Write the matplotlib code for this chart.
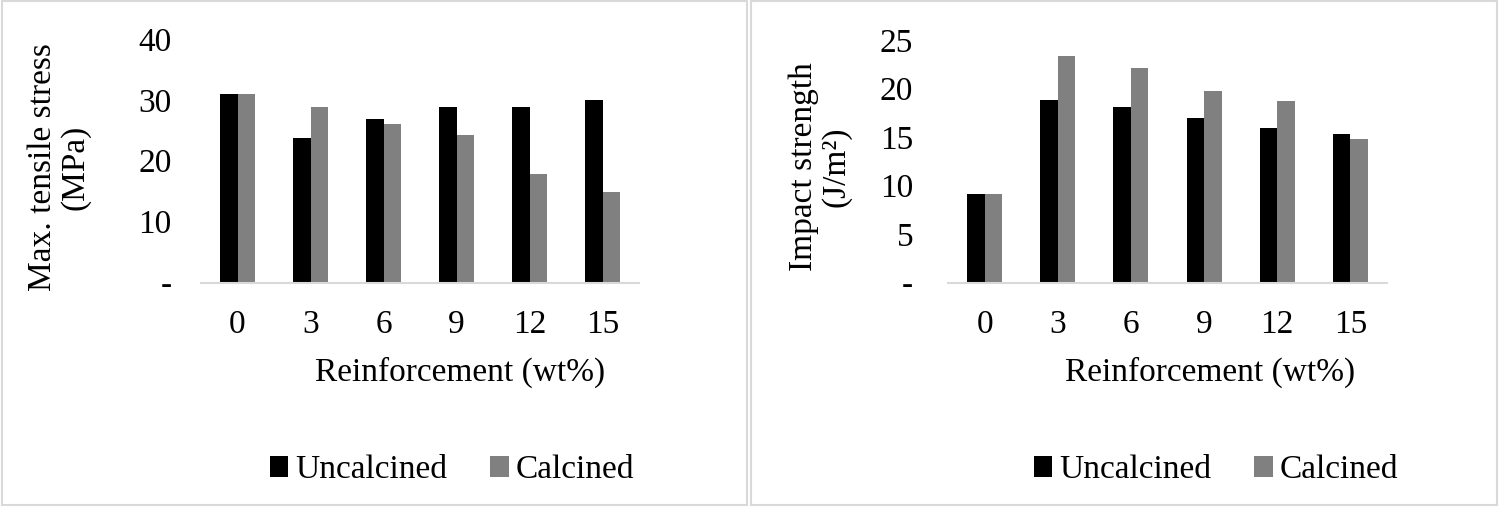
import matplotlib
matplotlib.use("Agg")
import matplotlib.pyplot as plt
from matplotlib.patches import Rectangle, Patch
import numpy as np

plt.rcParams['font.family'] = ['Liberation Serif', 'DejaVu Serif']

categories = ['0', '3', '6', '9', '12', '15']
tensile_uncalcined = [31.0, 23.7, 26.8, 28.8, 28.9, 29.9]
tensile_calcined = [31.0, 28.9, 26.1, 24.2, 17.9, 14.9]
impact_uncalcined = [9.15, 18.85, 18.1, 17.0, 15.9, 15.3]
impact_calcined = [9.15, 23.35, 22.1, 19.7, 18.7, 14.8]
tensile_ticks = [0, 10, 20, 30, 40]
tensile_ticklabels = ['-', '10', '20', '30', '40']
impact_ticks = [0, 5, 10, 15, 20, 25]
impact_ticklabels = ['-', '5', '10', '15', '20', '25']
series_names = ['Uncalcined', 'Calcined']

W, H = 1499, 508
fig = plt.figure(figsize=(W / 100, H / 100), dpi=100)

def fx(px):
    return px / W

def fy(py):
    return 1 - py / H

# panel borders
for x0, x1 in [(2, 747), (751, 1497)]:
    fig.patches.append(Rectangle((fx(x0), fy(505)), fx(x1 - x0), (505 - 1) / H,
                                 transform=fig.transFigure, fill=False,
                                 edgecolor='#D9D9D9', linewidth=1.5))

black = '#000000'
gray = '#808080'
bw = 0.24

def make_panel(left_px, right_px, top_px, base_px, unc, cal, ticks, ticklabels, ymax,
               ypad, ylabel, ylabel_x, xlabel_x, legend_x):
    ax = fig.add_axes([fx(left_px), fy(base_px), fx(right_px - left_px), (base_px - top_px) / H])
    x = np.arange(len(categories))
    ax.bar(x - bw / 2, unc, width=bw, color=black, label=series_names[0])
    ax.bar(x + bw / 2, cal, width=bw, color=gray, label=series_names[1])
    ax.set_xlim(-0.5, len(categories) - 0.5)
    ax.set_ylim(0, ymax)
    ax.set_xticks(x)
    ax.set_xticklabels(categories)
    ax.set_yticks(ticks)
    ax.set_yticklabels(ticklabels)
    for s in ['top', 'right', 'left']:
        ax.spines[s].set_visible(False)
    ax.spines['bottom'].set_color('#D9D9D9')
    ax.spines['bottom'].set_linewidth(1.5)
    ax.tick_params(axis='both', length=0, labelsize=24)
    ax.tick_params(axis='x', pad=19.5)
    ax.tick_params(axis='y', pad=ypad)
    fig.text(fx(ylabel_x), fy(167), ylabel, rotation=90, ha='center', va='center',
             fontsize=24, multialignment='center', linespacing=1.1)
    fig.text(fx(xlabel_x), fy(372), 'Reinforcement (wt%)', ha='center', va='center', fontsize=24)
    handles = [Patch(facecolor=black), Patch(facecolor=gray)]
    fig.legend(handles, series_names, loc='center', bbox_to_anchor=(fx(legend_x), fy(470)),
               ncol=2, frameon=False, fontsize=24, handlelength=0.55, handleheight=0.55,
               handletextpad=0.2, columnspacing=1.3, borderaxespad=0)
    return ax

make_panel(201, 639, 39, 282.5, tensile_uncalcined, tensile_calcined, tensile_ticks,
           tensile_ticklabels, 40, 21, 'Max. tensile stress\n(MPa)', 59, 460, 452)
make_panel(948, 1387, 40, 282.5, impact_uncalcined, impact_calcined, impact_ticks,
           impact_ticklabels, 25, 25, 'Impact strength\n(J/m²)', 820, 1210, 1216)

fig.savefig('out.png', dpi=100)
